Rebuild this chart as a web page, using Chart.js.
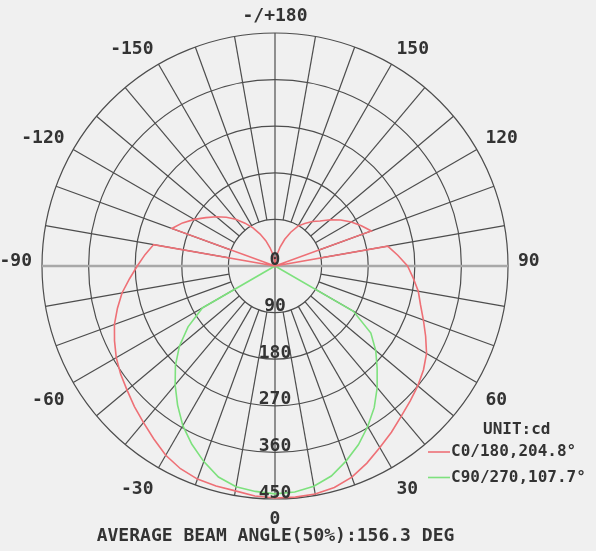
<!DOCTYPE html>
<html>
<head>
<meta charset="utf-8">
<script src="https://cdn.jsdelivr.net/npm/chart.js@4.4.0/dist/chart.umd.min.js"></script>
<style>
  html, body { margin: 0; padding: 0; background: #f0f0f0; }
  canvas { display: block; }
</style>
</head>
<body>
<canvas id="polarChart" width="596" height="551"></canvas>
<script>
// gamma angles (deg), 5 deg steps, 0 = straight down
var gammas = [0, 5, 10, 15, 20, 25, 30, 35, 40, 45, 50, 55, 60, 65, 70, 75, 80, 85, 90,
  95, 100, 105, 110, 115, 120, 125, 130, 135, 140, 145, 150, 155, 160, 165, 170, 175, 180];

// intensities in cd
var c0 = [448, 448, 447, 443, 434, 420, 405, 392, 379, 369, 360, 350, 338, 321, 305, 291, 281, 268, 256,
  238, 221, 0, 198, 184, 170, 155, 139, 123, 112, 100, 89, 72, 55, 38, 22, 10, 0];
var c180 = [448, 446, 441, 440, 438, 432, 422, 408, 395, 384, 373, 364, 354, 342, 330, 315, 300, 282, 266,
  252, 238, 0, 212, 197, 180, 163, 148, 133, 118, 101, 85, 68, 52, 36, 22, 10, 0];
var c90 = [440, 438, 432, 420, 401, 381, 358, 334, 307, 279, 254, 226, 175, 0, 0, 0, 0, 0, 0,
  0, 0, 0, 0, 0, 0, 0, 0, 0, 0, 0, 0, 0, 0, 0, 0, 0, 0];
var c270 = [440, 437, 433, 422, 402, 380, 356, 328, 300, 272, 241, 205, 162, 0, 0, 0, 0, 0, 0,
  0, 0, 0, 0, 0, 0, 0, 0, 0, 0, 0, 0, 0, 0, 0, 0, 0, 0];

// labels every 30 deg, clockwise from the top
var angleLabels = ['-/+180', '150', '120', '90', '60', '30', '0', '-30', '-60', '-90', '-120', '-150'];
var ringTicks = [0, 90, 180, 270, 360, 450];

var seriesNames = ['C0/180,204.8\u00b0', 'C90/270,107.7\u00b0'];
var redColor = 'rgb(238,112,118)';
var greenColor = 'rgb(125,225,125)';
var gridColor = '#4d4d4d';
var textColor = '#333';
var monoFont = '"DejaVu Sans Mono", monospace';

// radar goes clockwise from the top: right half is 180..0, left half is 0..-180
var n = gammas.length - 1;
var labels = [];
function joinHalves(right, left) {
  var out = [];
  for (var i = 0; i < 2 * n; i++) {
    out.push(i <= n ? right[n - i] : left[i - n]);
  }
  return out;
}
for (var i = 0; i < 2 * n; i++) {
  labels.push(i <= n ? String(gammas[n - i]) : '-' + gammas[i - n]);
}

function sgn(v) {
  return Math.abs(v) < 1e-6 ? 0 : (v > 0 ? 1 : -1);
}

var polarDecor = {
  id: 'polarDecor',
  beforeDatasetsDraw: function(chart) {
    var r = chart.scales.r;
    var ctx = chart.ctx;
    ctx.save();
    // spokes every 10 deg, from the first ring outwards
    ctx.strokeStyle = gridColor;
    ctx.lineWidth = 1.2;
    for (var i = 0; i < labels.length; i += 2) {
      if (i % (n / 2) === 0) continue;
      var a = r.getPointPositionForValue(i, ringTicks[1]);
      var b = r.getPointPositionForValue(i, ringTicks[ringTicks.length - 1]);
      ctx.beginPath();
      ctx.moveTo(a.x, a.y);
      ctx.lineTo(b.x, b.y);
      ctx.stroke();
    }
    // vertical axis
    var top = r.getPointPositionForValue(0, 450);
    var bot = r.getPointPositionForValue(n, 450);
    ctx.beginPath();
    ctx.moveTo(top.x, top.y);
    ctx.lineTo(bot.x, bot.y);
    ctx.stroke();
    // horizontal axis
    var rt = r.getPointPositionForValue(n / 2, 450);
    var lt = r.getPointPositionForValue(n + n / 2, 450);
    ctx.strokeStyle = '#a8a8a8';
    ctx.lineWidth = 2.5;
    ctx.beginPath();
    ctx.moveTo(lt.x, lt.y);
    ctx.lineTo(rt.x, rt.y);
    ctx.stroke();
    ctx.restore();
  },
  afterDatasetsDraw: function(chart) {
    var r = chart.scales.r;
    var ctx = chart.ctx;
    ctx.save();
    ctx.fillStyle = textColor;
    ctx.font = 'bold 18px ' + monoFont;
    ctx.textAlign = 'center';
    ctx.textBaseline = 'middle';
    // ring values down the lower axis
    ringTicks.forEach(function(v) {
      ctx.fillText(String(v), r.xCenter, r.yCenter + r.getDistanceFromCenterForValue(v) - 6);
    });
    // angle labels round the outside, inner corner just off the rim
    var step = labels.length / angleLabels.length;
    var h = 13;
    angleLabels.forEach(function(txt, k) {
      var idx = k * step;
      var ang = r.getIndexAngle(idx) - Math.PI / 2;
      var w = ctx.measureText(txt).width;
      var gap = idx === n ? 14 : 10;
      var p = r.getPointPosition(idx, r.drawingArea + gap);
      var dx = sgn(Math.cos(ang)), dy = sgn(Math.sin(ang));
      var x = p.x + dx * w / 2;
      var y = p.y + dy * h / 2;
      if (dy === 0) y -= 5;
      if (dy > 0 && dx !== 0) y += 6;
      ctx.fillText(txt, x, y);
    });
    // legend
    var lx = r.xCenter + 153;
    ctx.textAlign = 'left';
    ctx.font = 'bold 16px ' + monoFont;
    ctx.fillText('UNIT:cd', lx + 55, r.yCenter + 164);
    [redColor, greenColor].forEach(function(col, k) {
      var y = r.yCenter + 186 + k * 25.5;
      ctx.strokeStyle = col;
      ctx.lineWidth = 1.6;
      ctx.beginPath();
      ctx.moveTo(lx, y);
      ctx.lineTo(lx + 22, y);
      ctx.stroke();
      ctx.fillText(seriesNames[k], lx + 23, y);
    });
    ctx.restore();
  }
};

var ctxPolar = document.getElementById('polarChart').getContext('2d');

var polarChart = new Chart(ctxPolar, {
  type: 'radar',
  data: {
    labels: labels,
    datasets: [{
      label: seriesNames[0],
      data: joinHalves(c0, c180),
      borderColor: redColor,
      borderWidth: 1.6,
      fill: false
    }, {
      label: seriesNames[1],
      data: joinHalves(c90, c270),
      borderColor: greenColor,
      borderWidth: 1.6,
      fill: false
    }]
  },
  options: {
    responsive: false,
    animation: false,
    layout: { padding: { left: 42.5, right: 87.5, top: 8, bottom: 3.5 } },
    elements: {
      line: { tension: 0 },
      point: { radius: 0, hoverRadius: 0 }
    },
    scales: {
      r: {
        min: 0,
        max: 450,
        ticks: { display: false, stepSize: 90 },
        pointLabels: { display: false },
        angleLines: { display: false },
        grid: { circular: true, color: gridColor, lineWidth: 1.2 }
      }
    },
    plugins: {
      legend: { display: false },
      tooltip: { enabled: false },
      title: {
        display: true,
        position: 'bottom',
        text: 'AVERAGE BEAM ANGLE(50%):156.3 DEG',
        color: textColor,
        padding: 0,
        font: { family: monoFont, size: 18, weight: 'bold' }
      }
    }
  },
  plugins: [polarDecor]
});
</script>
</body>
</html>
